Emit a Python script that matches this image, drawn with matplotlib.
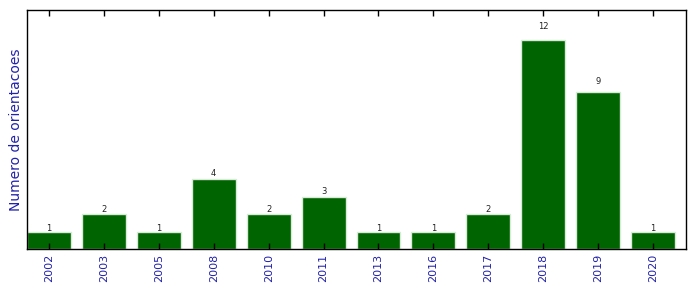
import matplotlib
matplotlib.use("Agg")
import matplotlib.pyplot as plt
import numpy as np

# anos e numero de orientacoes por ano
anos = ['2002', '2003', '2005', '2008', '2010', '2011', '2013', '2016', '2017', '2018', '2019', '2020']
orientacoes = [1, 2, 1, 4, 2, 3, 1, 1, 2, 12, 9, 1]

fig = plt.figure(figsize=(6.96, 2.92), dpi=100)
ax = fig.add_axes([27 / 696, 43 / 292, 659 / 696, 239 / 292])

x = np.arange(len(anos))
bars = ax.bar(x, orientacoes, width=0.8, align='edge', color='#006400',
              edgecolor='#d8ead8', linewidth=1)

for rect, v in zip(bars, orientacoes):
    ax.text(rect.get_x() + rect.get_width() / 2, 1.05 * v, str(v),
            ha='center', va='baseline', fontsize=6, color='#222222')

ax.set_xlim(0, len(anos))
ax.set_ylim(0, 13.7)
ax.set_xticks(x + 0.4)
ax.set_xticklabels(anos, rotation=90, color='#2222aa', fontsize=8)
ax.tick_params(axis='x', direction='in', top=True, length=4, width=1)
ax.set_yticks([])
ax.set_ylabel('Numero de orientacoes', color='#2222aa', fontsize=10, labelpad=3)
for s in ax.spines.values():
    s.set_linewidth(1)

fig.savefig('out.png', dpi=100)
